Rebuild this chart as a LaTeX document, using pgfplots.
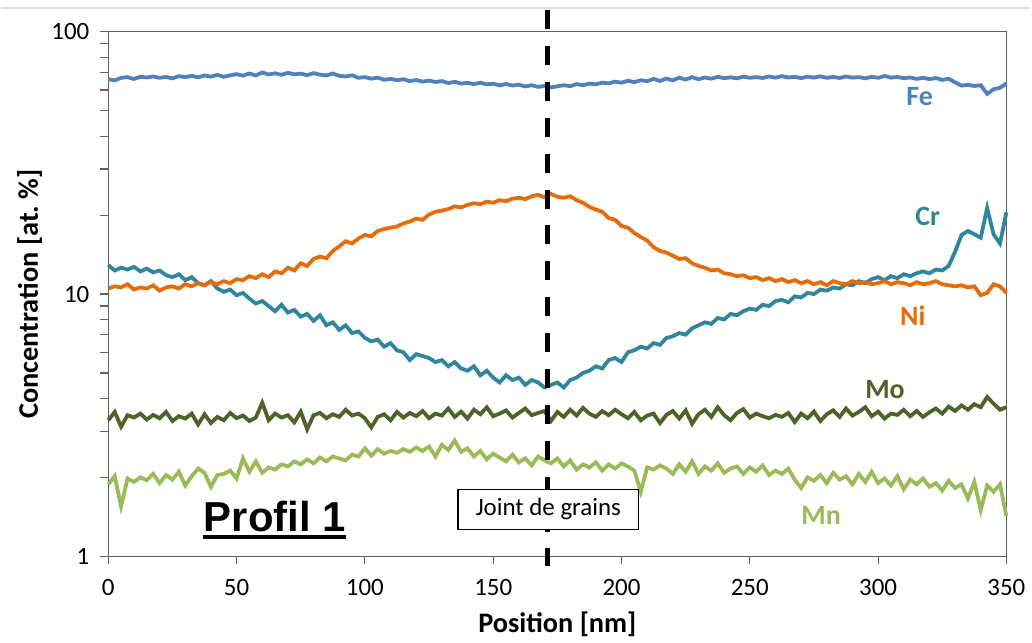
\documentclass[border=0pt]{standalone}
\usepackage{pgfplots}
\pgfplotsset{compat=1.18}
\usepackage{pgfplotstable}
\usepackage{fontspec}
\setmainfont{Carlito}
\newfontfamily\arialfont{Liberation Sans}
\definecolor{cFe}{HTML}{4F81BD}
\definecolor{cCr}{HTML}{31859C}
\definecolor{cNi}{HTML}{E46C0A}
\definecolor{cMo}{HTML}{4F6228}
\definecolor{cMn}{HTML}{9BBB59}
\pgfplotstableread{
x Fe Cr Ni Mo Mn
0 66.0 12.9 10.5 3.30 1.88
2.5 65.3 12.3 10.7 3.55 2.02
5 66.8 12.6 10.6 3.12 1.55
7.5 67.2 12.4 10.9 3.45 1.98
10 66.1 12.7 10.4 3.38 1.92
12.5 67.4 12.2 10.6 3.50 2.00
15 67.0 12.5 10.5 3.32 1.95
17.5 67.6 12.1 10.8 3.46 2.06
20 66.8 12.3 10.3 3.36 1.90
22.5 67.3 11.8 10.6 3.55 2.04
25 66.5 11.6 10.7 3.28 1.96
27.5 67.8 11.9 10.5 3.42 2.10
30 67.2 11.3 10.9 3.35 1.86
32.5 68.0 11.6 10.7 3.50 2.02
35 67.1 11.0 11.0 3.18 2.16
37.5 68.2 10.8 10.8 3.48 2.08
40 67.5 11.2 11.1 3.22 1.84
42.5 68.6 10.5 10.9 3.40 2.04
45 67.4 10.2 11.2 3.30 2.06
47.5 68.3 10.4 11.0 3.52 2.12
50 69.0 9.9 11.4 3.36 1.98
52.5 68.1 10.1 11.3 3.44 2.36
55 69.4 9.6 11.7 3.28 2.10
57.5 68.2 9.2 11.5 3.38 2.30
60 70.0 9.4 11.9 3.85 2.08
62.5 68.8 9.0 11.6 3.30 2.18
65 69.5 8.6 12.2 3.50 2.14
67.5 68.6 9.1 12.0 3.38 2.24
70 69.8 8.5 12.6 3.45 2.20
72.5 68.9 8.7 12.3 3.24 2.30
75 69.3 8.2 13.1 3.56 2.24
77.5 68.4 8.4 12.8 3.05 2.34
80 69.6 7.9 13.6 3.45 2.26
82.5 68.7 8.3 13.9 3.52 2.38
85 68.2 7.6 13.7 3.36 2.30
87.5 69.4 7.8 14.6 3.48 2.40
90 68.0 7.3 15.2 3.40 2.36
92.5 67.6 7.6 15.9 3.62 2.32
95 68.3 7.1 15.6 3.44 2.44
97.5 66.8 7.2 16.3 3.50 2.40
100 67.2 6.8 16.8 3.36 2.58
102.5 66.3 6.6 16.6 3.10 2.42
105 66.9 6.7 17.4 3.40 2.56
107.5 65.7 6.3 17.7 3.48 2.46
110 66.2 6.5 17.9 3.30 2.52
112.5 65.4 6.1 18.1 3.55 2.48
115 66.0 6.0 18.6 3.38 2.56
117.5 64.9 5.6 18.9 3.52 2.50
120 65.5 5.9 19.4 3.42 2.60
122.5 64.6 5.8 19.2 3.58 2.52
125 65.2 5.7 20.1 3.36 2.62
127.5 64.4 5.5 20.6 3.50 2.40
130 64.9 5.6 20.8 3.44 2.66
132.5 63.8 5.3 21.1 3.66 2.54
135 64.5 5.5 21.6 3.40 2.76
137.5 63.5 5.2 21.4 3.56 2.50
140 63.9 5.1 21.9 3.35 2.58
142.5 63.2 5.3 22.2 3.62 2.40
145 64.0 4.9 22.0 3.48 2.52
147.5 63.1 5.1 22.5 3.70 2.34
150 63.4 4.8 22.3 3.42 2.46
152.5 62.5 4.6 22.8 3.50 2.38
155 63.3 4.9 22.6 3.60 2.30
157.5 62.4 4.7 23.1 3.38 2.44
160 62.9 4.8 23.3 3.52 2.28
162.5 61.9 4.5 23.0 3.66 2.36
165 62.6 4.7 23.6 3.45 2.22
167.5 61.7 4.6 23.9 3.52 2.40
170 62.2 4.4 23.4 3.58 2.32
172.5 61.4 4.5 24.1 3.28 2.26
175 62.0 4.6 23.5 3.55 2.36
177.5 62.6 4.4 23.3 3.40 2.20
180 62.1 4.7 23.6 3.62 2.32
182.5 63.2 4.8 22.8 3.44 2.14
185 62.6 5.0 22.3 3.68 2.24
187.5 63.5 5.1 21.5 3.50 2.18
190 63.1 5.3 21.0 3.40 2.28
192.5 64.0 5.2 20.6 3.58 2.12
195 63.6 5.6 19.5 3.45 2.24
197.5 64.6 5.7 19.2 3.62 2.16
200 64.0 5.5 18.2 3.48 2.26
202.5 65.1 6.0 17.9 3.36 2.20
205 64.3 6.1 17.1 3.55 2.12
207.5 65.4 6.3 16.5 3.30 1.76
210 64.8 6.2 16.0 3.44 2.18
212.5 66.2 6.5 15.1 3.50 2.14
215 65.0 6.4 14.6 3.22 2.22
217.5 66.4 6.8 14.4 3.46 2.16
220 65.3 6.9 14.0 3.58 2.06
222.5 66.9 7.1 13.6 3.35 2.24
225 65.8 7.0 13.7 3.60 2.10
227.5 67.2 7.4 13.1 3.20 2.30
230 66.0 7.6 12.8 3.48 2.06
232.5 67.0 7.8 12.6 3.62 2.20
235 66.3 7.7 12.3 3.40 2.12
237.5 67.4 8.1 12.4 3.70 2.26
240 66.6 8.0 12.0 3.45 2.08
242.5 67.1 8.4 11.9 3.30 2.16
245 66.5 8.3 11.7 3.52 2.20
247.5 67.5 8.6 11.8 3.64 2.06
250 66.8 8.8 11.5 3.38 2.18
252.5 67.2 8.7 11.6 3.50 2.10
255 66.7 9.1 11.3 3.42 2.22
257.5 67.6 9.0 11.5 3.36 2.04
260 66.9 9.4 11.2 3.46 2.12
262.5 67.8 9.5 11.4 3.40 2.06
265 67.0 9.3 11.1 3.52 2.16
267.5 67.4 9.8 11.3 3.25 1.96
270 66.6 9.7 11.0 3.50 1.82
272.5 67.5 10.1 11.2 3.36 2.00
275 66.9 10.0 10.9 3.56 1.94
277.5 67.7 10.4 11.1 3.28 2.04
280 66.8 10.3 10.8 3.48 1.90
282.5 67.3 10.6 11.2 3.60 2.08
285 66.7 10.5 11.0 3.40 1.96
287.5 67.6 10.9 10.9 3.66 2.02
290 66.9 10.8 11.2 3.44 1.88
292.5 67.2 11.2 11.0 3.55 2.06
295 66.5 11.0 11.1 3.70 1.92
297.5 67.4 11.4 10.9 3.42 2.10
300 66.8 11.6 11.0 3.56 1.90
302.5 67.9 11.3 11.2 3.35 1.98
305 66.9 11.7 10.9 3.50 1.86
307.5 67.3 11.5 11.1 3.46 2.02
310 66.6 11.9 11.0 3.62 1.80
312.5 67.0 11.7 10.8 3.42 1.96
315 66.2 12.0 11.1 3.58 1.88
317.5 66.8 12.2 10.9 3.40 1.98
320 66.0 12.0 11.0 3.54 1.84
322.5 66.7 12.4 11.2 3.66 1.90
325 65.6 12.3 10.9 3.50 1.78
327.5 66.3 12.8 10.8 3.72 1.94
330 64.2 14.5 10.7 3.58 1.82
332.5 62.4 16.8 10.8 3.76 1.88
335 62.8 17.4 10.6 3.62 1.66
337.5 62.2 16.9 10.7 3.80 1.92
340 62.6 16.4 9.9 3.70 1.50
342.5 58.0 21.3 10.1 4.05 1.86
345 60.4 16.9 10.9 3.82 1.76
347.5 61.2 15.6 10.7 3.62 1.88
350 63.5 20.5 10.1 3.70 1.42
}\datatable
\begin{document}
\begin{tikzpicture}
\begin{axis}[
  scale only axis, width=450.5pt, height=263pt,
  ymode=log, xmin=0, xmax=350, ymin=1, ymax=100,
  xtick={0,50,...,350},
  ytick={1,10,100}, yticklabels={1,10,100},
  minor ytick={2,3,4,5,6,7,8,9,20,30,40,50,60,70,80,90},
  tick align=outside, xtick pos=bottom, ytick pos=left,
  major tick length=4pt, minor tick length=4pt,
  axis line style={gray!75!black, line width=0.6pt},
  tick style={gray!75!black, line width=0.6pt},
  ticklabel style={font=\fontsize{12.5}{12.5}\selectfont},
  yticklabel style={xshift=-2pt},
  xticklabel style={yshift=-4pt},
  /pgf/number format/assume math mode=true,
  xlabel={\bfseries Position [nm]},
  ylabel={\bfseries Concentration [at.~\%]},
  label style={font=\fontsize{14.2}{14.2}\selectfont},
  xlabel style={at={(axis description cs:0.5,-0.129)}, anchor=center},
  ylabel style={at={(axis description cs:-0.0877,0.5)}, anchor=center},
  clip=false,
]
\addplot[cFe, line width=1.9pt] table[x=x, y=Fe] {\datatable};
\addplot[cCr, line width=1.9pt] table[x=x, y=Cr] {\datatable};
\addplot[cNi, line width=1.9pt] table[x=x, y=Ni] {\datatable};
\addplot[cMo, line width=1.9pt] table[x=x, y=Mo] {\datatable};
\addplot[cMn, line width=1.9pt] table[x=x, y=Mn] {\datatable};

\node[text=cFe, font=\bfseries\fontsize{14}{14}\selectfont] at (axis cs:316.2,56.6) {Fe};
\node[text=cCr, font=\bfseries\fontsize{14}{14}\selectfont] at (axis cs:319.3,19.8) {Cr};
\node[text=cNi, font=\bfseries\fontsize{14}{14}\selectfont] at (axis cs:313.5,8.25) {Ni};
\node[text=cMo, font=\bfseries\fontsize{14}{14}\selectfont] at (axis cs:302.7,4.31) {Mo};
\node[text=cMn, font=\bfseries\fontsize{14}{14}\selectfont] at (axis cs:277.8,1.432) {Mn};

\draw[gray!25, line width=0.6pt] (rel axis cs:-0.1199,1.0456) -- (rel axis cs:1.0255,1.0456);
\draw[black, line width=2.5pt, dash pattern=on 9.5pt off 8.5pt] (axis cs:171.1,121) -- (axis cs:171.1,0.92);
\node[draw=black, line width=0.7pt, fill=white, minimum width=90.5pt, minimum height=20pt, inner sep=0pt, font=\fontsize{12.5}{12.5}\selectfont] at (axis cs:171.5,1.509) {Joint de grains};
\node[anchor=base, inner sep=0pt, font=\arialfont\bfseries\fontsize{21}{21}\selectfont] (pf) at (axis cs:64.9,1.245) {Profil 1};
\draw[line width=2pt] ([yshift=-3pt]pf.base west) -- ([yshift=-3pt]pf.base east);
\path (rel axis cs:-0.1199,-0.1578) rectangle (rel axis cs:1.0255,1.0608);
\end{axis}
\end{tikzpicture}
\end{document}
